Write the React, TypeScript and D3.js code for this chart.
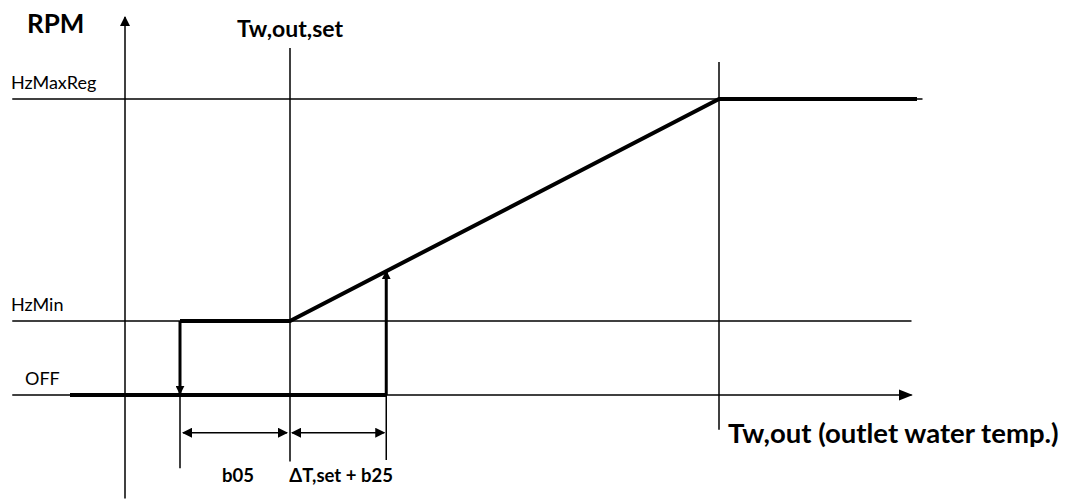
import * as d3 from "d3";

// levels on the RPM axis
const levelNames = ["OFF", "HzMin", "HzMaxReg"];
const levelValues = [0, 1, 4];

// temperatures (relative to set point)
const tSet = 0;
const tOffHyst = -2; // set - b05
const tOn = 1.75; // set + ΔT,set + b25
const tMax = 7.8;
const tAxis = -3;
const tLeft = -4;
const tRight = 11.4;

// speed curve (thick line)
const offSegment: [number, number][] = [[tLeft, 0], [tOn, 0]];
const regSegment: [number, number][] = [[tOffHyst, 1], [tSet, 1], [tMax, 4], [tRight, 4]];

const width = 1069;
const height = 504;
const font = "Lato, 'Open Sans', sans-serif";

export default function App() {
  const x = d3.scaleLinear().domain([0, 1]).range([290, 345]);
  const y = d3.scaleLinear().domain([0, 1]).range([395, 321]);
  const line = d3.line<[number, number]>().x((d) => x(d[0])).y((d) => y(d[1]));

  const thin = 1.5;
  const thick = 4;

  return (
    <svg width={width} height={height} style={{ position: "absolute", left: 0, top: 0, background: "#fff" }}>
      <defs>
        <marker id="ah" viewBox="0 0 10 10" refX="9" refY="5" markerWidth="10" markerHeight="10" markerUnits="userSpaceOnUse" orient="auto-start-reverse">
          <path d="M0,0 L10,5 L0,10 z" fill="#000" />
        </marker>
        <marker id="ahBig" viewBox="0 0 10 10" refX="9" refY="5" markerWidth="14" markerHeight="14" markerUnits="userSpaceOnUse" orient="auto">
          <path d="M0,1 L10,5 L0,9 z" fill="#000" />
        </marker>
        <marker id="ahThick" viewBox="0 0 10 10" refX="8" refY="5" markerWidth="3" markerHeight="3" orient="auto">
          <path d="M0,0 L10,5 L0,10 z" fill="#000" />
        </marker>
      </defs>

      {/* horizontal level lines */}
      {levelValues.map((v, i) => (
        <line key={levelNames[i]} x1={x(-5.05)} x2={v === 4 ? x(11.5) : x(11.3)} y1={y(v)} y2={y(v)}
          stroke="#000" strokeWidth={thin} markerEnd={v === 0 ? "url(#ahBig)" : undefined} />
      ))}
      {levelValues.map((v, i) => (
        <text key={"t" + levelNames[i]} x={i === 0 ? 25 : 11} y={y(v) - 10} fontFamily={font} fontSize={18}>{levelNames[i]}</text>
      ))}

      {/* y axis */}
      <line x1={x(tAxis)} x2={x(tAxis)} y1={y(-1.4)} y2={17} stroke="#000" strokeWidth={thin} markerEnd="url(#ah)" />

      {/* vertical guides */}
      <line x1={x(tSet)} x2={x(tSet)} y1={48} y2={y(-0.9)} stroke="#000" strokeWidth={thin} />
      <line x1={x(tMax)} x2={x(tMax)} y1={62} y2={y(-0.47)} stroke="#000" strokeWidth={thin} />
      <line x1={x(tOffHyst)} x2={x(tOffHyst)} y1={y(1)} y2={y(-0.99)} stroke="#000" strokeWidth={thin} />
      <line x1={x(tOn)} x2={x(tOn)} y1={y(0)} y2={y(-0.88)} stroke="#000" strokeWidth={thin} />

      {/* dimension arrows */}
      <line x1={x(tOffHyst) + 3} x2={x(tSet) - 3} y1={y(-0.51)} y2={y(-0.51)} stroke="#000" strokeWidth={thin}
        markerStart="url(#ah)" markerEnd="url(#ah)" />
      <line x1={x(tSet) + 2} x2={x(tOn) - 2} y1={y(-0.51)} y2={y(-0.51)} stroke="#000" strokeWidth={thin}
        markerStart="url(#ah)" markerEnd="url(#ah)" />

      {/* speed curve */}
      <path d={line(offSegment) ?? ""} fill="none" stroke="#000" strokeWidth={thick} />
      <path d={line(regSegment) ?? ""} fill="none" stroke="#000" strokeWidth={thick} strokeLinejoin="miter" />
      <line x1={x(tOffHyst)} x2={x(tOffHyst)} y1={y(1)} y2={y(0) - 2} stroke="#000" strokeWidth={3} markerEnd="url(#ahThick)" />
      <line x1={x(tOn)} x2={x(tOn)} y1={y(0)} y2={272} stroke="#000" strokeWidth={3} markerEnd="url(#ahThick)" />

      {/* labels */}
      <text x={27} y={33} fontFamily={font} fontWeight="bold" fontSize={26}>RPM</text>
      <text x={x(tSet)} y={37} textAnchor="middle" fontFamily={font} fontWeight="bold" fontSize={23}>Tw,out,set</text>
      <text x={x(tMax) + 9} y={443} fontFamily={font} fontWeight="bold" fontSize={27.5}>Tw,out (outlet water temp.)</text>
      <text x={x((tOffHyst + tSet) / 2) - 13} y={482} textAnchor="start" fontFamily={font} fontWeight="bold" fontSize={18.5}>b05</text>
      <text x={x((tSet + tOn) / 2) + 3} y={482} textAnchor="middle" fontFamily={font} fontWeight="bold" fontSize={18.5}>ΔT,set + b25</text>
    </svg>
  );
}
